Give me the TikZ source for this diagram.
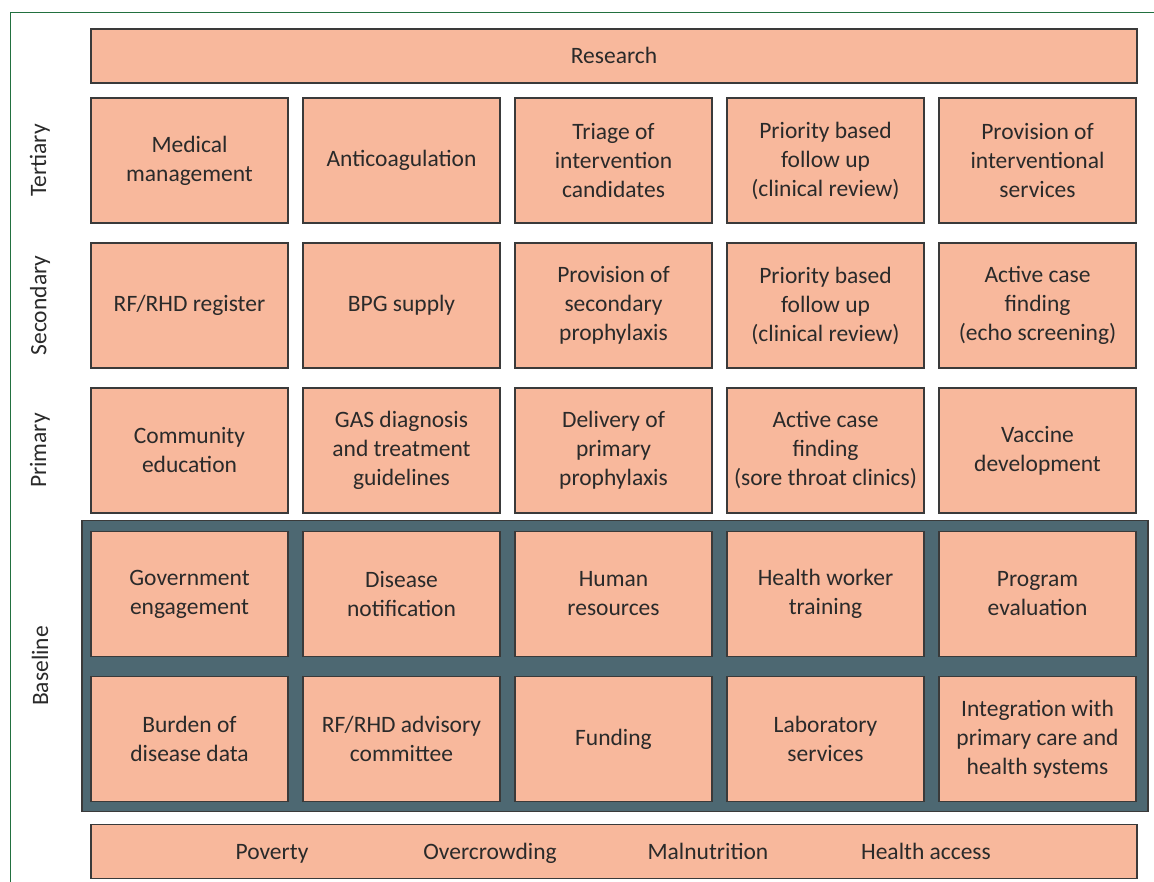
\documentclass[tikz,border=0pt]{standalone}
\usepackage{fontspec}
\setmainfont{Carlito}
\definecolor{boxfill}{HTML}{F8B89C}
\definecolor{boxline}{HTML}{3A3A3A}
\definecolor{basefill}{HTML}{4D6872}
\definecolor{txt}{HTML}{2A2A2A}
\definecolor{frame}{HTML}{22703F}
\newcommand{\dfont}{\fontsize{23.5}{29}\selectfont}
\tikzset{
  cell/.style={draw=boxline, line width=1.2pt, fill=boxfill, minimum width=197pt, minimum height=125pt, inner sep=0pt, align=center, text=txt, font=\dfont},
  bar/.style={draw=boxline, line width=1.2pt, fill=boxfill, minimum width=1046pt, minimum height=54pt, inner sep=0pt, text=txt, font=\dfont},
  lbl/.style={rotate=90, text=txt, font=\dfont, inner sep=0pt},
  word/.style={text=txt, font=\dfont, inner sep=0pt, anchor=base},
}
\begin{document}
\begin{tikzpicture}[x=1pt,y=-1pt]
\useasboundingbox (0,0) rectangle (1154,882);
\fill[white] (0,0) rectangle (1154,882);
\draw[frame, line width=1.8pt] (10.5,882) -- (10.5,12.5) -- (1154,12.5);
% research
\node[bar] (research) at (614,56) {};
\node[word] (researchtxt) at (614,64) {Research};
% columns centers
\def\ca{189.5}\def\cb{401.5}\def\cc{613.5}\def\cd{825.5}\def\ce{1037.5}
% tertiary
\node[cell] (t1) at (\ca,160.5) {Medical\\management};
\node[cell] (t2) at (\cb,160.5) {Anticoagulation};
\node[cell] (t3) at (\cc,160.5) {Triage of\\intervention\\candidates};
\node[cell] (t4) at (\cd,160.5) {Priority based\\follow up\\(clinical review)};
\node[cell] (t5) at (\ce,160.5) {Provision of\\interventional\\services};
% secondary
\node[cell] (s1) at (\ca,305.5) {RF/RHD register};
\node[cell] (s2) at (\cb,305.5) {BPG supply};
\node[cell] (s3) at (\cc,305.5) {Provision of\\secondary\\prophylaxis};
\node[cell] (s4) at (\cd,305.5) {Priority based\\follow up\\(clinical review)};
\node[cell] (s5) at (\ce,305.5) {Active case\\finding\\(echo screening)};
% primary
\node[cell] (p1) at (\ca,450.5) {Community\\education};
\node[cell] (p2) at (\cb,450.5) {GAS diagnosis\\and treatment\\guidelines};
\node[cell] (p3) at (\cc,450.5) {Delivery of\\primary\\prophylaxis};
\node[cell] (p4) at (\cd,450.5) {Active case\\finding\\(sore throat clinics)};
\node[cell] (p5) at (\ce,450.5) {Vaccine\\development};
% baseline panel
\node[draw=boxline, line width=1.2pt, fill=basefill, minimum width=1066pt, minimum height=291pt, inner sep=0pt] (basepanel) at (615,666) {};
\node[cell] (b1) at (\ca,594) {Government\\engagement};
\node[cell] (b2) at (\cb,594) {Disease\\notification};
\node[cell] (b3) at (\cc,594) {Human\\resources};
\node[cell] (b4) at (\cd,594) {Health worker\\training};
\node[cell] (b5) at (\ce,594) {Program\\evaluation};
\node[cell] (c1) at (\ca,739) {Burden of\\disease data};
\node[cell] (c2) at (\cb,739) {RF/RHD advisory\\committee};
\node[cell] (c3) at (\cc,739) {Funding};
\node[cell] (c4) at (\cd,739) {Laboratory\\services};
\node[cell] (c5) at (\ce,739) {Integration with\\primary care and\\health systems};
% determinants bar
\node[bar] (det) at (614,851.5) {};
\node[word] (pov) at (272,859) {Poverty};
\node[word] (ovc) at (490,859) {Overcrowding};
\node[word] (mal) at (708,859) {Malnutrition};
\node[word] (hac) at (926,859) {Health access};
% row labels
\node[lbl] (lt) at (40,160.5) {Tertiary};
\node[lbl] (ls) at (40,305.5) {Secondary};
\node[lbl] (lp) at (40,450.5) {Primary};
\node[lbl] (lb) at (40,666) {Baseline};
\end{tikzpicture}
\end{document}
